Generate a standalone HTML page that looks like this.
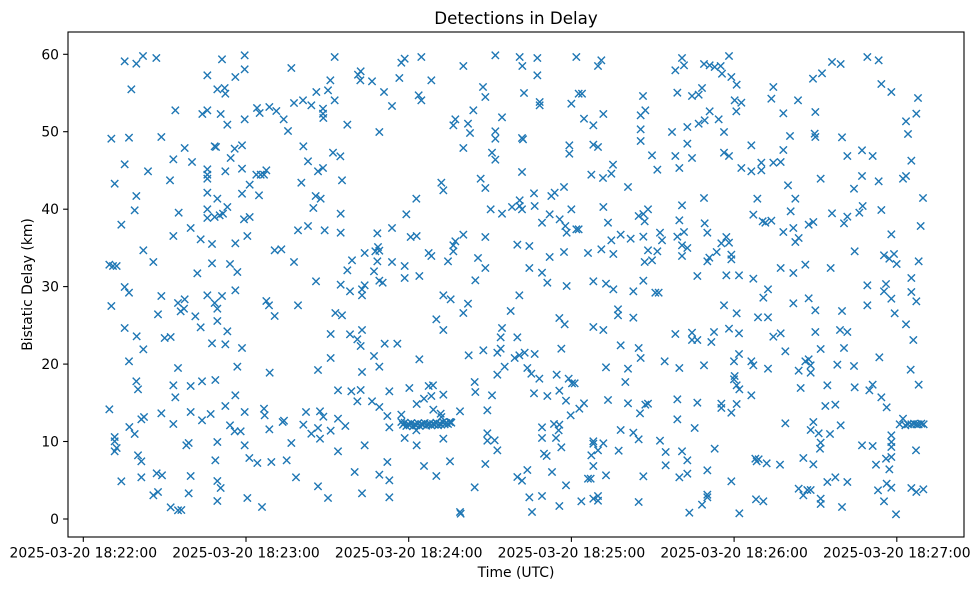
<!DOCTYPE html>
<html>
<head>
<meta charset="utf-8">
<style>
html,body{margin:0;padding:0;background:#fff;}
svg{display:block;}
text{font-family:"DejaVu Sans","Liberation Sans",sans-serif;fill:#000;}
</style>
</head>
<body>
<svg width="978" height="590" viewBox="0 0 978 590" xmlns="http://www.w3.org/2000/svg">
<defs>
<marker id="m" markerUnits="userSpaceOnUse" markerWidth="30" markerHeight="30" refX="15" refY="15" viewBox="0 0 30 30" overflow="visible" orient="0">
<path d="M4 4L26 26M4 26L26 4" stroke="#1f77b4" stroke-width="4.2" fill="none"/>
</marker>
<clipPath id="c"><rect x="68" y="32" width="896" height="505"/></clipPath>
</defs>
<rect width="978" height="590" fill="#fff"/>
<g clip-path="url(#c)">
<g fill="none" stroke="none" style="marker-start:url(#m);marker-mid:url(#m);marker-end:url(#m)">
<polyline transform="translate(68 32) scale(0.333333)" points="170,88 205,95 225,72 265,78 190,172 462,82 530,70 418,130 530,112 502,135 448,172 470,168 472,185 670,108 800,75 870,128 878,118 877,145 787,145 745,180 780,175 800,205 678,213 705,205 730,220 765,230 765,245 766,258 838,278 322,235 403,246 418,235 458,246 478,278 530,262 567,228 575,243 604,225 625,237 647,262 660,297 130,320 183,317 280,315 350,348 316,382 372,390 440,343 444,345 500,350 522,340 488,378 706,343 720,388 795,362 817,373 170,397 240,418 418,412 418,440 418,428 472,418 522,410 565,428 578,428 595,415 588,428 750,418 765,408 822,445 140,455 306,445 545,458 700,452 205,492 418,482 448,500 522,485 573,490 743,492 758,500"/>
<polyline transform="translate(368 32) scale(0.333333)" points="12,148 48,180 72,222 34,300 100,92 110,80 160,75 94,138 190,145 152,190 160,205 286,102 382,70 455,75 463,102 508,78 508,130 625,75 690,102 700,85 345,165 352,195 316,235 262,262 256,280 300,275 306,303 402,256 382,298 382,320 286,348 372,362 382,383 468,183 515,210 515,220 462,318 465,322 632,185 642,185 610,215 648,260 676,280 706,246 825,192 832,235 818,250 818,292 818,327 604,340 604,365 676,338 690,345 852,370 868,413 735,398 730,425 705,438 670,428 780,465 462,420 338,440 352,468 220,452 226,475 145,500 455,505 498,484 550,492 560,482 588,465"/>
<polyline transform="translate(668 32) scale(0.333333)" points="22,115 42,78 48,100 108,96 125,100 140,105 158,102 162,125 183,72 190,135 206,158 28,182 72,192 92,188 102,168 200,205 220,212 205,238 125,238 152,262 110,265 92,275 58,285 12,300 168,300 58,335 22,372 72,378 34,408 168,362 183,372 250,340 220,408 250,418 280,392 280,415 316,392 338,390 346,354 360,460 366,312 316,165 310,200 390,205 346,244 435,140 462,124 492,90 518,96 598,75 632,85 640,156 670,180 750,198 745,245 714,268 720,306 442,240 440,305 442,315 522,316 538,372 582,355 614,372 730,386 458,440 582,432 558,470 632,448 705,440 714,432 765,498 382,500 268,500 108,498"/>
<polyline transform="translate(68 202) scale(0.333333)" points="200,25 160,68 332,32 418,22 418,48 440,45 455,40 465,35 478,15 528,52 545,45 368,78 316,102 398,112 432,126 502,124 538,102 226,145 256,180 124,188 135,192 146,192 388,214 432,184 486,186 508,210 620,145 640,142 678,180 690,85 720,72 770,85 818,92 818,35 736,18 852,175 838,205 890,153 744,238 818,248 846,268 882,262 882,280 890,250 170,255 183,272 280,282 130,312 270,337 330,303 350,292 338,328 348,320 418,280 440,303 462,282 448,320 502,265 382,343 398,376 448,357 478,388 595,297 603,310 620,342 690,310 802,333 822,340 170,378 206,403 226,442 290,408 308,405 432,424 472,427 522,438 183,478 788,396 846,397 868,412 878,432 882,384 788,468 330,498 508,494 605,512 750,504 882,510"/>
<polyline transform="translate(368 202) scale(0.333333)" points="115,37 72,78 28,94 128,105 146,102 30,135 22,148 34,146 28,178 72,180 18,208 110,192 110,228 154,222 34,236 44,242 182,153 190,162 240,178 256,130 262,118 256,148 286,98 352,105 368,22 402,35 432,15 455,12 462,22 500,12 545,37 522,62 575,52 592,72 596,92 625,82 632,82 610,22 706,15 720,62 448,128 484,132 545,165 588,150 660,153 700,142 730,115 736,156 758,98 788,110 826,104 876,92 882,115 812,42 826,36 840,22 830,58 840,145 868,148 830,180 852,175 330,168 352,198 322,235 484,198 522,212 538,242 596,252 676,238 714,245 736,262 796,268 826,236 862,272 872,272 226,280 248,292 300,305 286,333 205,352 226,384 428,327 454,280 574,348 590,367 676,375 706,384 750,322 750,340 796,347 402,378 398,406 448,406 50,425 88,425 18,462 34,494 154,472 302,460 346,445 388,452 398,440 440,468 454,460 470,452 500,456 410,494 478,498 580,440 758,430 812,438 818,468 890,478 714,496 780,500"/>
<polyline transform="translate(668 202) scale(0.333333)" points="42,10 34,55 48,90 28,104 42,130 58,138 42,162 110,64 118,92 175,105 160,124 183,122 146,150 190,158 190,172 118,178 124,167 88,222 175,220 213,220 256,230 256,38 284,58 292,62 310,56 368,28 346,90 376,78 392,108 382,120 422,68 436,60 492,34 538,44 528,64 574,32 584,12 640,24 758,72 670,97 560,148 648,160 664,170 678,156 686,186 752,178 338,198 376,213 412,188 488,198 598,250 654,246 648,268 670,290 730,228 730,270 745,298 300,262 286,287 376,304 422,289 442,325 522,327 598,310 680,334 714,367 168,310 206,334 270,346 300,346 22,396 72,392 72,414 88,414 130,420 138,390 183,380 213,394 316,404 338,394 442,390 516,384 538,390 736,414 352,448 458,441 528,438 634,466 213,456 198,478 250,478 256,490 412,478 422,472 428,490 108,490 34,498 300,500 508,488 558,492 728,503 392,506"/>
<polyline transform="translate(68 372) scale(0.333333)" points="205,28 210,52 316,40 368,42 402,28 442,24 322,76 502,70 472,102 124,112 220,142 228,135 280,124 316,156 368,120 402,145 428,126 530,120 588,110 590,130 604,172 644,150 648,146 714,120 756,118 766,134 810,140 706,158 750,168 730,185 756,200 788,176 832,162 810,55 850,58 878,54 868,88 184,165 200,186 140,195 140,208 146,228 140,238 486,160 500,178 518,178 355,220 362,213 448,210 530,220 670,213 810,238 890,220 210,250 220,268 442,265 544,258 568,273 610,270 656,265 160,328 220,316 266,304 282,310 368,312 448,327 458,348 684,316 750,343 860,300 256,370 270,360 362,364 448,387 538,378 582,405 780,378 882,364 308,406 330,415 340,414"/>
<polyline transform="translate(368 372) scale(0.333333)" points="12,88 34,105 58,132 64,58 124,48 182,42 195,40 190,72 168,80 146,96 226,68 196,113 218,125 276,118 320,30 322,60 372,70 358,115 388,8 490,5 514,20 498,64 538,72 566,8 574,56 602,20 612,34 620,34 594,86 608,130 634,110 648,94 720,84 780,94 772,30 816,124 832,98 840,95 64,166 100,128 100,150 105,158 110,152 115,162 120,156 125,160 130,153 135,163 140,157 145,160 150,154 155,162 160,156 165,158 170,153 175,161 180,157 185,155 190,160 195,156 200,158 205,152 210,160 215,155 220,158 225,150 230,157 235,153 240,156 245,150 250,152 220,135 145,175 110,198 146,220 226,200 248,150 358,184 358,206 380,205 388,235 522,166 522,198 558,156 574,158 572,175 564,198 580,226 528,245 536,252 58,270 34,308 64,325 64,376 168,282 205,312 246,268 352,276 320,346 276,420 278,425 448,315 462,326 478,294 552,300 594,340 484,376 522,372 492,420 574,402 640,388 676,208 676,215 706,214 690,235 670,250 676,282 752,236 758,174 796,182 812,202 876,206 893,240 893,280 660,320 668,320 714,310 826,313 676,380 690,372 690,386 812,390"/>
<polyline transform="translate(668 372) scale(0.333333)" points="200,12 198,22 206,40 214,52 250,70 428,2 28,82 88,92 160,95 160,108 190,122 206,96 28,142 80,168 398,48 478,40 560,46 604,55 614,38 640,76 656,106 752,38 472,102 502,98 352,154 436,150 428,174 452,184 486,186 518,160 458,212 456,230 695,157 705,140 712,160 720,157 730,157 738,155 745,157 752,157 760,155 767,157 670,190 670,210 670,225 582,220 614,222 744,235 140,230 42,238 58,265 34,316 58,305 118,295 190,328 262,260 272,262 266,268 296,274 336,278 406,258 436,277 624,278 654,260 670,255 664,292 478,330 502,316 538,330 392,350 418,354 428,354 406,370 458,380 458,396 522,405 630,355 656,335 670,347 730,348 745,360 766,352 648,388 684,427 118,368 118,376 102,398 64,422 214,424 264,382 286,388"/>
</g>
</g>
<rect x="68" y="32" width="896" height="505" fill="none" stroke="#000" stroke-width="1.1"/>
<g stroke="#000" stroke-width="1.1">
<line x1="63.1" y1="519" x2="68" y2="519"/>
<line x1="63.1" y1="441.5" x2="68" y2="441.5"/>
<line x1="63.1" y1="364.1" x2="68" y2="364.1"/>
<line x1="63.1" y1="286.6" x2="68" y2="286.6"/>
<line x1="63.1" y1="209.2" x2="68" y2="209.2"/>
<line x1="63.1" y1="131.7" x2="68" y2="131.7"/>
<line x1="63.1" y1="54.3" x2="68" y2="54.3"/>
</g>
<g font-size="13.9" text-anchor="end">
<text x="59" y="524">0</text>
<text x="59" y="446.5">10</text>
<text x="59" y="369.1">20</text>
<text x="59" y="291.6">30</text>
<text x="59" y="214.2">40</text>
<text x="59" y="136.7">50</text>
<text x="59" y="59.3">60</text>
</g>
<g stroke="#000" stroke-width="1.1">
<line x1="83.3" y1="537" x2="83.3" y2="541.9"/>
<line x1="246" y1="537" x2="246" y2="541.9"/>
<line x1="408.7" y1="537" x2="408.7" y2="541.9"/>
<line x1="571.4" y1="537" x2="571.4" y2="541.9"/>
<line x1="734.1" y1="537" x2="734.1" y2="541.9"/>
<line x1="896.8" y1="537" x2="896.8" y2="541.9"/>
</g>
<g font-size="13.9" text-anchor="middle">
<text x="83.3" y="557.5">2025-03-20 18:22:00</text>
<text x="246" y="557.5">2025-03-20 18:23:00</text>
<text x="408.7" y="557.5">2025-03-20 18:24:00</text>
<text x="571.4" y="557.5">2025-03-20 18:25:00</text>
<text x="734.1" y="557.5">2025-03-20 18:26:00</text>
<text x="896.8" y="557.5">2025-03-20 18:27:00</text>
</g>
<text x="516" y="577" font-size="13.9" text-anchor="middle">Time (UTC)</text>
<text transform="translate(32 284.5) rotate(-90)" font-size="13.9" text-anchor="middle">Bistatic Delay (km)</text>
<text x="516" y="24" font-size="16.7" text-anchor="middle">Detections in Delay</text>
</svg>
</body>
</html>
